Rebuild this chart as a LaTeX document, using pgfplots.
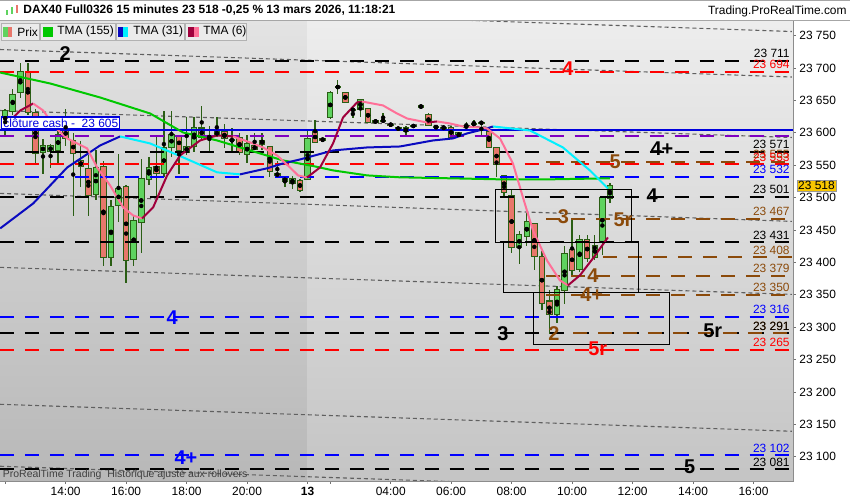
\documentclass[border=0pt]{standalone}
\usepackage{fontspec}
\setmainfont{Liberation Sans}
\usepackage{pgfplots}
\pgfplotsset{compat=1.18}
\usepackage{pgfplotstable}

\definecolor{wick}{HTML}{2A5E14}
\definecolor{upc}{HTML}{5FD35F}
\definecolor{dnc}{HTML}{E8776B}
\definecolor{tgreen}{HTML}{00C800}
\definecolor{tblue}{HTML}{0A0AC0}
\definecolor{tcyan}{HTML}{00F0FF}
\definecolor{tmaroon}{HTML}{A0003C}
\definecolor{tpink}{HTML}{FF7098}
\definecolor{lvred}{HTML}{FF0000}
\definecolor{lvblue}{HTML}{0000FF}
\definecolor{lvpurple}{HTML}{8000C0}
\definecolor{lvbrown}{HTML}{8B4A0A}
\definecolor{trend}{HTML}{606060}
\definecolor{cash}{HTML}{0000DD}
\definecolor{tag}{HTML}{F7C600}

% 15 min candles, u = trading hours (12:00 on the 12th = 0, 01:15 on the 13th = 10)
\pgfplotstableread{
u o h l c
0 23611 23637 23596 23634
0.25 23634 23668 23627 23659
0.5 23662 23708 23654 23694
1.25 23570 23591 23536 23580
1.5 23571 23583 23545 23580
1.75 23573 23616 23554 23597
3.0 23505 23573 23496 23546
3.5 23408 23496 23395 23486
3.75 23488 23568 23462 23514
4.25 23405 23472 23395 23465
4.5 23462 23560 23414 23529
4.75 23529 23562 23519 23546
5.25 23537 23634 23531 23577
5.5 23577 23634 23562 23597
6.0 23570 23625 23565 23579
6.25 23579 23624 23570 23607
7.0 23596 23624 23593 23602
8.0 23567 23596 23553 23583
9.5 23522 23533 23514 23529
10 23529 23603 23528 23591
10.75 23624 23664 23622 23662
11.75 23636 23651 23624 23651
13.25 23602 23611 23596 23607
15.0 23594 23601 23593 23600
17.0 23423 23449 23398 23442
17.25 23440 23477 23426 23462
18.25 23320 23364 23306 23358
18.5 23357 23425 23335 23414
19.0 23389 23442 23385 23435
19.5 23408 23442 23403 23426
19.75 23431 23503 23411 23499
20.0 23499 23522 23491 23518
}\upcandles

\pgfplotstableread{
u o h l c
0.75 23694 23708 23627 23631
1.0 23631 23637 23550 23568
2.0 23607 23637 23580 23591
2.25 23588 23599 23472 23568
2.5 23557 23588 23516 23548
2.75 23545 23565 23472 23503
3.25 23548 23557 23395 23408
4.0 23516 23520 23369 23403
5.0 23548 23593 23499 23537
5.75 23596 23597 23537 23573
6.5 23607 23642 23590 23593
6.75 23594 23611 23570 23593
7.25 23602 23614 23576 23591
7.5 23589 23607 23570 23588
7.75 23593 23600 23565 23570
8.25 23580 23599 23573 23574
8.5 23588 23599 23573 23583
8.75 23579 23580 23531 23540
9.0 23537 23557 23531 23534
9.25 23529 23533 23517 23526
9.75 23526 23529 23509 23511
10.25 23602 23620 23585 23585
10.5 23590 23591 23587 23589
11.0 23671 23681 23660 23670
11.25 23662 23662 23647 23647
11.5 23636 23636 23622 23635
12.0 23637 23637 23617 23617
12.25 23618 23619 23616 23617
12.5 23619 23630 23617 23618
12.75 23613 23614 23611 23612
13.0 23607 23608 23605 23606
13.5 23611 23612 23609 23610
13.75 23641 23642 23639 23640
14.0 23628 23630 23611 23611
14.25 23609 23611 23607 23608
14.5 23608 23609 23607 23607
14.75 23608 23610 23591 23593
15.25 23610 23616 23607 23609
15.5 23614 23619 23611 23613
15.75 23616 23616 23596 23615
16.0 23602 23608 23576 23577
16.25 23577 23577 23531 23551
16.5 23534 23534 23499 23509
16.75 23503 23511 23415 23423
17.5 23459 23459 23389 23409
17.75 23408 23418 23327 23337
18.0 23340 23357 23290 23320
18.75 23420 23465 23378 23388
19.25 23435 23442 23400 23406
}\downcandles

\pgfplotsset{
  wicks/.style={only marks, mark=none, forget plot,
    error bars/.cd, y dir=both, y explicit, error mark=none,
    error bar style={draw=wick, line width=1.4bp, solid}},
  bodyout/.style={only marks, mark=none, forget plot,
    error bars/.cd, y dir=both, y explicit, error mark=none,
    error bar style={draw=wick, line width=6.5bp, solid}},
  bodyin/.style={only marks, mark=none, forget plot,
    error bars/.cd, y dir=both, y explicit, error mark=none,
    error bar style={draw=#1, line width=4.5bp, solid}},
  lvl/.style={line width=2bp, dash pattern=on 14bp off 11bp, forget plot},
  tl/.style={trend, line width=1.1bp, dash pattern=on 4bp off 3bp, forget plot},
  ma/.style={line width=2bp, line join=round, forget plot},
}
\tikzset{
  big/.style={font=\bfseries\fontsize{20}{20}\selectfont, inner sep=0pt},
  rlab/.style={anchor=base east, inner sep=0pt, yshift=3bp, font=\fontsize{12}{12}\selectfont},
}

\begin{document}
\begin{tikzpicture}[x=1bp,y=1bp]
\fill[white] (0,-19) rectangle (850,481);
\begin{axis}[
  at={(0,0)}, anchor=south west, scale only axis,
  width=793bp, height=461bp,
  xmin=-0.165, xmax=26.05, ymin=23063, ymax=23774,
  axis line style={draw=black!45},
  scaled y ticks=false, scaled x ticks=false,
  ytick={23100,23150,23200,23250,23300,23350,23400,23450,23500,23550,23600,23650,23700,23750},
  yticklabels={23 100,23 150,23 200,23 250,23 300,23 350,23 400,23 450,23 500,23 550,23 600,23 650,23 700,23 750},
  xtick={0,2,4,6,8,10,10.75,12.75,14.75,16.75,18.75,20.75,22.75,24.75},
  xticklabels={,14:00,16:00,18:00,20:00,\textbf{13},,04:00,06:00,08:00,10:00,12:00,14:00,16:00},
  yticklabel pos=right, ytick pos=right, xtick pos=bottom,
  tick align=outside, major tick length=3bp,
  tick style={black!55, line width=0.6bp},
  ticklabel style={font=\fontsize{12}{14}\selectfont},
]
% background
\shade[top color=black!11, bottom color=black!28] (axis cs:-0.165,23063) rectangle (axis cs:10,23774);
\shade[top color=black!7, bottom color=black!23] (axis cs:10,23063) rectangle (axis cs:26.05,23774);

% trend lines
\addplot[tl] coordinates {(-0.165,23798.4) (26.02,23756.2)};
\addplot[tl] coordinates {(-0.165,23728.4) (26.02,23686.0)};
\addplot[tl] coordinates {(-0.165,23634.3) (26.02,23592.7)};
\addplot[tl] coordinates {(-0.165,23506.4) (26.02,23463.2)};
\addplot[tl] coordinates {(-0.165,23392.3) (26.02,23350.6)};
\addplot[tl] coordinates {(-0.165,23181.0) (26.02,23139.4)};
\addplot[tl] coordinates {(-0.165,23085.4) (26.02,23043.8)};

% candles
\addplot[wicks] table[x=u, y expr={(\thisrow{h}+\thisrow{l})/2}, y error expr={(\thisrow{h}-\thisrow{l})/2}] {\upcandles};
\addplot[wicks] table[x=u, y expr={(\thisrow{h}+\thisrow{l})/2}, y error expr={(\thisrow{h}-\thisrow{l})/2}] {\downcandles};
\addplot[bodyout] table[x=u, y expr={(\thisrow{o}+\thisrow{c})/2}, y error expr={abs(\thisrow{c}-\thisrow{o})/2+1.2}] {\upcandles};
\addplot[bodyout] table[x=u, y expr={(\thisrow{o}+\thisrow{c})/2}, y error expr={abs(\thisrow{c}-\thisrow{o})/2+1.2}] {\downcandles};
\addplot[bodyin=upc] table[x=u, y expr={(\thisrow{o}+\thisrow{c})/2}, y error expr={max(abs(\thisrow{c}-\thisrow{o})/2-0.4,0)}] {\upcandles};
\addplot[bodyin=dnc] table[x=u, y expr={(\thisrow{o}+\thisrow{c})/2}, y error expr={max(abs(\thisrow{c}-\thisrow{o})/2-0.4,0)}] {\downcandles};

% levels
\addplot[lvl, black] coordinates {(-1,23711) (27,23711)};
\addplot[lvl, black] coordinates {(-1,23571) (27,23571)};
\addplot[lvl, black] coordinates {(-1,23501) (27,23501)};
\addplot[lvl, black] coordinates {(-1,23431) (27,23431)};
\addplot[lvl, black] coordinates {(-1,23291) (27,23291)};
\addplot[lvl, black] coordinates {(-1,23081) (27,23081)};
\addplot[lvl, lvred] coordinates {(-1,23694) (27,23694)};
\addplot[lvl, lvred] coordinates {(-1,23551) (27,23551)};
\addplot[lvl, lvred] coordinates {(-1,23265) (27,23265)};
\addplot[lvl, lvblue] coordinates {(-1,23532) (27,23532)};
\addplot[lvl, lvblue] coordinates {(-1,23316) (27,23316)};
\addplot[lvl, lvblue] coordinates {(-1,23102) (27,23102)};
\addplot[lvl, lvpurple] coordinates {(-1,23595) (27,23595)};
\addplot[lvl, lvbrown] coordinates {(17.9,23555) (27,23555)};
\addplot[lvl, lvbrown] coordinates {(17.9,23467) (27,23467)};
\addplot[lvl, lvbrown] coordinates {(19.77,23408) (27,23408)};
\addplot[lvl, lvbrown] coordinates {(17.9,23379) (27,23379)};
\addplot[lvl, lvbrown] coordinates {(17.9,23350) (27,23350)};
\addplot[lvl, lvbrown] coordinates {(18.78,23291) (27,23291)};
\addplot[cash, line width=2bp, forget plot] coordinates {(-1,23605) (27,23605)};

% TMA (155)
\addplot[ma, tgreen] coordinates {(-0.165,23692.9) (1.488,23676.0) (3.140,23654.4) (4.793,23629.7) (5.884,23600.4) (7.008,23588.1) (8.099,23572.7) (9.190,23557.3) (10.248,23548.0) (10.843,23541.9) (11.967,23534.2) (13.058,23531.2) (14.711,23529.7) (16.364,23528.1) (18.017,23528.1) (20.0,23529.7)};
% TMA (31)
\addplot[ma, tblue] coordinates {(-0.165,23452.4) (0.926,23490.9) (2.050,23546.4) (3.140,23580.4) (3.802,23594.3)};
\addplot[ma, tcyan] coordinates {(3.802,23594.3) (4.793,23583.5) (5.884,23562.0) (7.008,23538.9) (7.769,23535.8)};
\addplot[ma, tblue] coordinates {(7.769,23535.8) (8.661,23545.1) (9.190,23552.6) (9.752,23558.8) (10.843,23572.7) (11.967,23577.3) (13.058,23578.8) (14.149,23588.1) (14.810,23591.2) (15.273,23598.9) (15.934,23606.6) (16.132,23609.7)};
\addplot[ma, tcyan] coordinates {(16.132,23609.7) (17.355,23603.5) (18.446,23577.3) (19.339,23541.8) (19.934,23514.1)};
% TMA (6)
\addplot[ma, tmaroon] coordinates {(0.165,23618.9) (0.496,23634.3) (0.926,23645.1)};
\addplot[ma, tpink] coordinates {(0.926,23645.1) (1.256,23634.3) (1.653,23608.1) (2.050,23591.2) (2.380,23583.5) (2.711,23575.8) (3.041,23546.4) (3.471,23518.7) (3.901,23484.8) (4.231,23472.4) (4.529,23467.8)};
\addplot[ma, tmaroon] coordinates {(4.529,23467.8) (4.893,23484.8) (5.355,23534.1) (5.785,23565.0) (6.446,23588.1) (7.008,23595.8) (7.537,23594.3)};
\addplot[ma, tpink] coordinates {(7.537,23594.3) (8.099,23585.1) (8.529,23577.3) (8.992,23565.0) (9.421,23546.4) (9.686,23534.1) (9.983,23531.0)};
\addplot[ma, tmaroon] coordinates {(9.983,23531.0) (10.413,23546.4) (10.843,23583.5) (11.174,23623.6) (11.636,23646.7) (11.802,23648.2)};
\addplot[ma, tpink] coordinates {(11.802,23648.2) (12.496,23642.1) (12.959,23629.7) (13.289,23622.0) (13.950,23615.8)};
\addplot[ma, tmaroon] coordinates {(13.950,23615.8) (14.281,23617.4)};
\addplot[ma, tpink] coordinates {(14.281,23617.4) (14.711,23614.3) (15.140,23609.7) (15.702,23608.1) (15.934,23606.6) (16.364,23591.2) (16.793,23552.6) (17.124,23500.2) (17.455,23449.3) (17.917,23403.1) (18.347,23372.2) (18.612,23364.5)};
\addplot[ma, tmaroon] coordinates {(18.612,23364.5) (19.008,23380.0) (19.438,23406.1) (19.934,23438.5)};

% zones
\draw[black, line width=1bp] (axis cs:16.2,23512) rectangle (axis cs:20.72,23431);
\draw[black, line width=1bp] (axis cs:16.47,23431) rectangle (axis cs:20.94,23353);
\draw[black, line width=1bp] (axis cs:17.46,23353) rectangle (axis cs:21.96,23273);

% level names
\node[big] at (axis cs:1.98,23722) {2};
\node[big, text=lvred] at (axis cs:18.61,23699) {4};
\node[big] at (axis cs:21.72,23576) {4+};
\node[big, text=lvbrown] at (axis cs:20.17,23555) {5};
\node[big] at (axis cs:21.40,23503) {4};
\node[big, text=lvbrown] at (axis cs:18.46,23470) {3};
\node[big, text=lvbrown] at (axis cs:20.43,23466) {5r};
\node[big, text=lvbrown] at (axis cs:19.44,23380) {4};
\node[big, text=lvbrown] at (axis cs:19.40,23350) {4+};
\node[big, text=lvblue] at (axis cs:5.52,23315) {4};
\node[big] at (axis cs:16.46,23290) {3};
\node[big, text=lvbrown] at (axis cs:18.15,23290) {2};
\node[big] at (axis cs:23.40,23295) {5r};
\node[big, text=lvred] at (axis cs:19.60,23267) {5r};
\node[big, text=lvblue] at (axis cs:5.98,23099) {4+};
\node[big] at (axis cs:22.64,23084) {5};

% right-hand values
\node[rlab] at (axis cs:25.95,23711) {23 711};
\node[rlab, text=lvred] at (axis cs:25.95,23694) {23 694};
\node[rlab] at (axis cs:25.95,23571) {23 571};
\node[rlab, text=lvbrown] at (axis cs:25.95,23555) {23 555};
\node[rlab, text=lvred] at (axis cs:25.95,23551) {23 553};
\node[rlab, text=lvblue] at (axis cs:25.95,23532) {23 532};
\node[rlab] at (axis cs:25.95,23501) {23 501};
\node[rlab, text=lvbrown] at (axis cs:25.95,23467) {23 467};
\node[rlab] at (axis cs:25.95,23431) {23 431};
\node[rlab, text=lvbrown] at (axis cs:25.95,23408) {23 408};
\node[rlab, text=lvbrown] at (axis cs:25.95,23379) {23 379};
\node[rlab, text=lvbrown] at (axis cs:25.95,23350) {23 350};
\node[rlab, text=lvblue] at (axis cs:25.95,23316) {23 316};
\node[rlab, text=lvbrown] at (axis cs:25.95,23291) {23 291};
\node[rlab] at (axis cs:25.95,23291) {23 291};
\node[rlab, text=lvred] at (axis cs:25.95,23265) {23 265};
\node[rlab, text=lvblue] at (axis cs:25.95,23102) {23 102};
\node[rlab] at (axis cs:25.95,23081) {23 081};

\node[anchor=south west, draw=cash, fill=white, line width=1.2bp, text=cash, inner sep=1.5bp,
  font=\fontsize{12}{12}\selectfont] at (axis cs:-0.13,23605) {clôture cash -\ \ 23 605};
\node[anchor=west, text=black!75, inner sep=0pt, font=\fontsize{10.5}{11}\selectfont] at (axis cs:-0.08,23072) {ProRealTime Trading\ \ Historique ajusté aux rollovers};
\coordinate (cp) at (axis cs:26.05,23518);
\end{axis}

% current price tag
\node[anchor=west, fill=tag, draw=black!40, inner sep=1.2bp, xshift=4bp,
  font=\fontsize{12}{12}\selectfont] at (cp) {23 518};

% header
\fill[white] (0,461) rectangle (850,481);
\draw[black!35] (0,480.5) -- (850,480.5);
\draw[black!35] (0,461) -- (850,461);
\fill[upc] (6,466) rectangle (8,471);
\fill[upc] (11,467) rectangle (13,474);
\fill[dnc] (16,468) rectangle (18,476);
\node[anchor=west, inner sep=0pt, font=\bfseries\fontsize{12}{12}\selectfont] at (23,470.5)
  {DAX40 Full0326 15 minutes 23 518 -0,25 \% 13 mars 2026, 11:18:21};
\node[anchor=east, inner sep=0pt, font=\fontsize{12}{12}\selectfont] at (847,469.5) {Trading.ProRealTime.com};

% legend strip
\filldraw[fill=black!8, draw=black!30] (1,441) rectangle (39,457.7);
\filldraw[fill=black!8, draw=black!30] (40,441) rectangle (115,457.7);
\filldraw[fill=black!8, draw=black!30] (116,441) rectangle (184,457.7);
\filldraw[fill=black!8, draw=black!30] (185,441) rectangle (246,457.7);
\fill[upc] (3,444.3) rectangle (7.5,454);
\fill[dnc] (7.5,444.3) rectangle (12,454);
\fill[tgreen] (43,444.3) rectangle (53,454);
\fill[tblue] (118,444.3) rectangle (123,454);
\fill[tcyan] (123,444.3) rectangle (128,454);
\fill[tmaroon] (188,444.3) rectangle (193.5,454);
\fill[tpink] (193.5,444.3) rectangle (199,454);
\begin{scope}[every node/.style={anchor=west, inner sep=0pt, font=\fontsize{12}{12}\selectfont}]
\node at (17,449.3) {Prix};
\node at (57,449.3) {TMA (155)};
\node at (133,449.3) {TMA (31)};
\node at (203,449.3) {TMA (6)};
\end{scope}
\end{tikzpicture}
\end{document}
